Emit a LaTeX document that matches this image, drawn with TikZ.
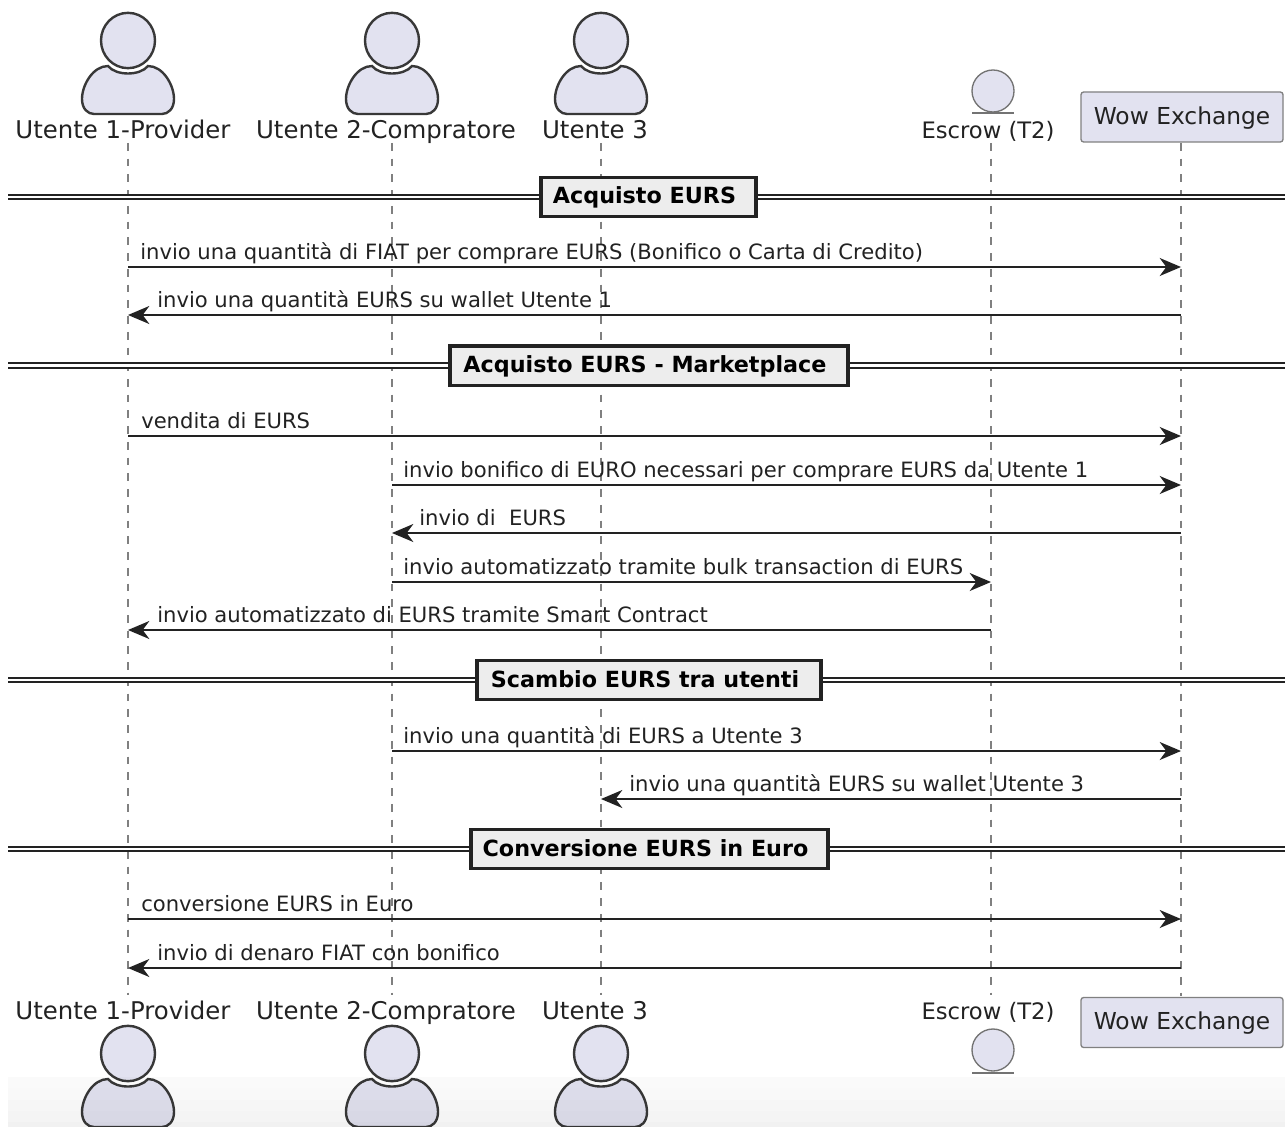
\documentclass[tikz,border=0pt]{standalone}
\usepackage{fontspec}
\setmainfont{DejaVu Sans}
\usetikzlibrary{arrows.meta,shapes.geometric}
\definecolor{partfill}{HTML}{E2E2F0}
\definecolor{ink}{HTML}{222222}
\definecolor{lifecol}{HTML}{808080}
\tikzset{
  x=0.75pt,y=-0.75pt,
  partname/.style={font=\fontsize{18.3}{22}\selectfont,text=ink,inner sep=0pt,anchor=base},
  escrowname/.style={partname,font=\fontsize{17}{20}\selectfont},
  msgtext/.style={font=\fontsize{15.83}{19}\selectfont,text=ink,inner sep=0pt,anchor=base west},
  life/.style={draw=lifecol,line width=0.8pt,dash pattern=on 5.8pt off 6pt},
  msgline/.style={draw=ink,line width=1.2pt,-{Stealth[length=16pt,width=13.5pt,inset=5pt]}},
  actorline/.style={draw=ink!90,line width=1.8pt,fill=partfill},
  divtitle/.style={draw=ink,line width=2.5pt,fill=black!7,font=\fontsize{16.7}{20}\selectfont\bfseries,text=black,inner sep=0pt,text height=12pt,text depth=1.5pt},
  divline/.style={draw=ink,line width=5pt},
  divgap/.style={draw=white,line width=2pt},
  wowbox/.style={draw=black!50,line width=1pt,fill=partfill,rounded corners=2pt,inner sep=0pt,minimum width=151.5pt,minimum height=37.5pt,font=\fontsize{17.5}{21}\selectfont,text=ink,text height=12pt,text depth=0.8pt},
  escrowcirc/.style={ellipse,draw=black!55,line width=1pt,fill=partfill,minimum width=31.5pt,minimum height=31.5pt,inner sep=0pt},
  escrowbar/.style={draw=black!55,line width=1pt},
  headshape/.style={ellipse,draw=ink!90,line width=1.8pt,fill=partfill,minimum width=40.5pt,minimum height=41.5pt,inner sep=0pt},
}
\newcommand{\actorfig}[3]{%
  \node[headshape] (#1) at (#2,#3+27.5) {};
  \begin{scope}[shift={(#2,#3)}]
    \draw[actorline] (-20,53) .. controls (-12,63) and (12,63) .. (20,53)
      .. controls (35,53) and (46,72) .. (46,86)
      .. controls (46,96) and (40,101) .. (34,101) -- (-34,101)
      .. controls (-40,101) and (-46,96) .. (-46,86)
      .. controls (-46,72) and (-35,53) .. (-20,53) -- cycle;
  \end{scope}}
\newcommand{\divider}[5]{% name, y, x-left, x-right, text
  \coordinate (#1l) at (8,#2);
  \coordinate (#1r) at (1285,#2);
  \draw[divline] (#1l) -- (#1r);
  \draw[divgap] (#1l) -- (#1r);
  \node[divtitle,minimum width={(#4-#3)*0.75pt},minimum height=29.5pt] (#1) at ({(#3+#4)/2},#2) {#5\kern6pt};}
\newcommand{\seqmsg}[6]{% name, from life, to life, y, label x, text
  \coordinate (#1a) at (#2a |- 0,#4);
  \coordinate (#1b) at (#3a |- 0,#4);
  \draw[msgline] (#1a) -- (#1b);
  \node[msgtext] (#1t) at (#5,#4-7.5) {#6};}
\begin{document}
\begin{tikzpicture}
\useasboundingbox[fill=white] (0,0) rectangle (1285,1127);
% lifelines
\coordinate (l1a) at (128,143); \coordinate (l1b) at (128,995);
\coordinate (l2a) at (392,143); \coordinate (l2b) at (392,995);
\coordinate (l3a) at (601,143); \coordinate (l3b) at (601,995);
\coordinate (l4a) at (991,143); \coordinate (l4b) at (991,995);
\coordinate (l5a) at (1181,143); \coordinate (l5b) at (1181,996);
\foreach \i in {1,...,5} \draw[life] (l\i a) -- (l\i b);
% top participants
\actorfig{a1}{128}{13}
\actorfig{a2}{392}{13}
\actorfig{a3}{601}{13}
\node[partname] (n1) at (123,139) {Utente 1-Provider};
\node[partname] (n2) at (386,139) {Utente 2-Compratore};
\node[partname] (n3) at (595,139) {Utente 3};
\node[escrowname] (n4) at (988,139) {Escrow (T2)};
\node[escrowcirc] (e1) at (993,91) {};
\coordinate (e1l) at (972,113); \coordinate (e1r) at (1014,113);
\draw[escrowbar] (e1l) -- (e1r);
\node[wowbox] (w1) at (1182,117) {Wow Exchange};
% dividers
\divider{d1}{197}{541}{756}{Acquisto EURS}
\divider{d2}{365.5}{450}{848}{Acquisto EURS - Marketplace}
\divider{d3}{680}{477}{821}{Scambio EURS tra utenti}
\divider{d4}{849}{471}{828}{Conversione EURS in Euro}
% messages
\seqmsg{m1}{l1}{l5}{267}{140}{invio una quantità di FIAT per comprare EURS (Bonifico o Carta di Credito)}
\seqmsg{m2}{l5}{l1}{315}{157}{invio una quantità EURS su wallet Utente 1}
\seqmsg{m3}{l1}{l5}{436}{141}{vendita di EURS}
\seqmsg{m4}{l2}{l5}{485}{403}{invio bonifico di EURO necessari per comprare EURS da Utente 1}
\seqmsg{m5}{l5}{l2}{533}{419}{invio di\ \ EURS}
\seqmsg{m6}{l2}{l4}{582}{403}{invio automatizzato tramite bulk transaction di EURS}
\seqmsg{m7}{l4}{l1}{630}{157}{invio automatizzato di EURS tramite Smart Contract}
\seqmsg{m8}{l2}{l5}{751}{403}{invio una quantità di EURS a Utente 3}
\seqmsg{m9}{l5}{l3}{799}{629}{invio una quantità EURS su wallet Utente 3}
\seqmsg{m10}{l1}{l5}{919}{141}{conversione EURS in Euro}
\seqmsg{m11}{l5}{l1}{968}{157}{invio di denaro FIAT con bonifico}
% bottom participants
\node[partname] (n1b) at (123,1019) {Utente 1-Provider};
\node[partname] (n2b) at (386,1019) {Utente 2-Compratore};
\node[partname] (n3b) at (595,1019) {Utente 3};
\node[escrowname] (n4b) at (988,1019) {Escrow (T2)};
\actorfig{b1}{128}{1026}
\actorfig{b2}{392}{1026}
\actorfig{b3}{601}{1026}
\node[escrowcirc] (e2) at (993,1050) {};
\coordinate (e2l) at (972,1073); \coordinate (e2r) at (1014,1073);
\draw[escrowbar] (e2l) -- (e2r);
\node[wowbox] (w2) at (1182,1022.5) {Wow Exchange};
% bottom fade
\foreach \ya/\yb/\op in {1077/1088/.02,1088/1100/.025,1100/1111/.035,1111/1122/.045,1122/1127/.055}
  \fill[black,opacity=\op] (8,\ya) rectangle (1285,\yb);
\end{tikzpicture}
\end{document}
